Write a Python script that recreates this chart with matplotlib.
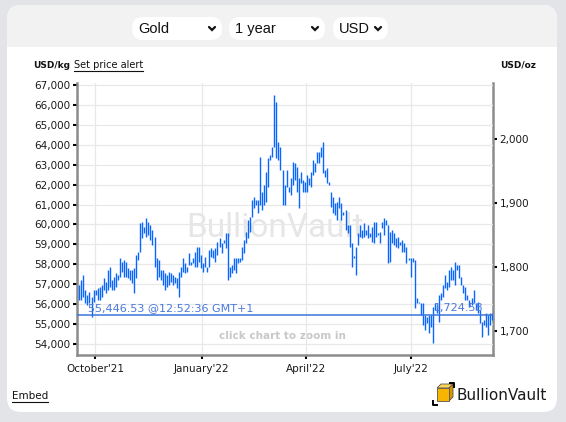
import pandas as pd
import matplotlib
matplotlib.use("Agg")
import matplotlib.pyplot as plt
from matplotlib.patches import FancyBboxPatch, Rectangle, Polygon
from matplotlib.ticker import FuncFormatter


OUTPUT_FILE = "out.png"

W, H = 566, 422

FIRST_BAR = "2021-09-17"
LAST_BAR = "2022-09-09"

# daily high / low, USD per kg
HIGHS = [
    56960, 57210, 57460, 56710, 56460, 56610, 56360, 56710, 56710, 56810,
    56860, 56960, 57310, 57110, 57710, 57870, 57210, 57360, 57560, 57460,
    58320, 58120, 58220, 58120, 57820, 57710, 57710, 57820, 58470, 58620,
    60070, 60120, 59870, 60330, 60120, 59970, 59720, 59370, 58320, 58220,
    57710, 57710, 57560, 57460, 57610, 57560, 57460, 57360, 57310, 57610,
    57870, 58320, 58070, 57870, 58570, 58120, 58320, 58620, 58870, 58870,
    58470, 58070, 58370, 57870, 58720, 58820, 58720, 58820, 59120, 59320,
    59070, 59220, 59570, 59570, 57870, 57970, 58320, 58320, 58320, 58320,
    58870, 59220, 59620, 60220, 60380, 61230, 61380, 61230, 61230, 63390,
    61630, 61980, 62630, 63340, 63490, 63890, 66500, 66150, 64140, 63890,
    62730, 61980, 62730, 61880, 62330, 63140, 63090, 62880, 62330, 62630,
    62230, 62130, 62480, 62330, 62630, 63240, 63090, 63640, 63640, 63890,
    64140, 62730, 62830, 62130, 61630, 61380, 61080, 61130, 61380, 61080,
    60630, 60730, 59970, 59970, 59070, 58420, 58870, 59570, 59970, 59720,
    60070, 59720, 59970, 59570, 59870, 60120, 60120, 59570, 59620, 60120,
    60330, 60220, 59970, 59620, 59720, 59570, 59320, 59370, 59120, 59220,
    59070, 58870, 58320, 58320, 58320, 58220, 56310, 56110, 56060, 56060,
    55460, 55360, 55460, 55460, 55860, 56060, 55960, 56460, 56560, 56960,
    57460, 57110, 57710, 57870, 57710, 58120, 57970, 57970, 57360, 56960,
    56860, 56460, 56210, 56310, 56710, 56060, 56110, 55710, 55110, 55210,
    55560, 55460, 55560, 55560,
]

LOWS = [
    56210, 56210, 56360, 56060, 55960, 56060, 55380, 56110, 56460, 56210,
    56210, 56360, 56710, 56560, 56710, 56860, 56710, 56710, 56860, 57210,
    57360, 57610, 57360, 57360, 57310, 57210, 57060, 56560, 57310, 58220,
    58620, 59320, 59570, 59370, 59470, 59220, 58970, 57870, 57210, 57360,
    57210, 56960, 56710, 56860, 56960, 57110, 56960, 57060, 56810, 56360,
    57360, 57610, 57560, 57610, 57970, 57970, 58070, 57870, 57870, 58120,
    57820, 57610, 57870, 57610, 57870, 58370, 58320, 58120, 58470, 58870,
    58570, 59070, 58820, 57210, 57360, 57560, 57710, 57560, 58070, 58120,
    58220, 58570, 59070, 59320, 59620, 60380, 60830, 60980, 60580, 60980,
    60730, 60980, 61130, 61880, 63240, 63390, 63890, 63340, 63240, 62730,
    60980, 60980, 61880, 61630, 61480, 61980, 62230, 61630, 60830, 62080,
    61630, 61630, 61630, 61980, 61880, 62480, 62630, 63090, 63090, 63390,
    62580, 62380, 62080, 61980, 60880, 60580, 60480, 60220, 60830, 60220,
    60480, 59720, 59570, 58870, 57870, 58320, 57460, 58970, 59370, 59320,
    59370, 59470, 59320, 59370, 59120, 59070, 59370, 59470, 59070, 59820,
    59470, 59970, 58070, 58120, 59070, 58970, 58870, 58820, 58970, 58620,
    58620, 58070, 58220, 57360, 58120, 55810, 56060, 56060, 55460, 54950,
    54700, 55060, 54550, 54850, 54050, 55710, 55560, 55110, 56210, 56360,
    56810, 56710, 56860, 57210, 57210, 56960, 57710, 57310, 56960, 56560,
    56210, 56210, 55860, 55960, 56060, 55710, 55560, 55060, 54350, 54950,
    54850, 54450, 54950, 55210,
]

TICK_DATES = ["2021-10-01", "2022-01-01", "2022-04-01", "2022-07-01"]
TICK_LABELS = ["October'21", "January'22", "April'22", "July'22"]

KG_TICKS = list(range(54000, 68000, 1000))
OZ_TICKS = [1700, 1800, 1900, 2000]
OZ_PER_KG = 32.1507466

LAST_PRICE = 55446.53
LAST_TIME = "12:52:36 GMT+1"

SELECTORS = ["Gold", "1 year", "USD"]

BAR_COLOR = "#0866ff"
LINE_COLOR = "#3b74dc"
SPINE_COLOR = "#8c8c8c"
GRID_COLOR = "#e8e8e8"


def comma(v, pos=None):
    return f"{v:,.0f}"


def draw_frame(fig):
    bg = fig.add_axes([0, 0, 1, 1])
    bg.set_xlim(0, W)
    bg.set_ylim(H, 0)
    bg.axis("off")

    # card + grey header band
    bg.add_patch(FancyBboxPatch((7, 5), 550, 407, boxstyle="round,pad=0,rounding_size=14",
                                fc="white", ec="none"))
    bg.add_patch(FancyBboxPatch((7, 5), 550, 60, boxstyle="round,pad=0,rounding_size=14",
                                fc="#f2f2f2", ec="none"))
    bg.add_patch(Rectangle((7, 47), 550, 340, fc="white", ec="none"))

    # selectors
    boxes = [(132, 90), (229, 96), (333, 55)]
    for label, (x0, w) in zip(SELECTORS, boxes):
        bg.add_patch(FancyBboxPatch((x0, 17), w, 23, boxstyle="round,pad=0,rounding_size=11",
                                    fc="white", ec="none"))
        bg.text(x0 + 6, 29, label, fontsize=10.5, family="Liberation Sans",
                color="#111111", va="center", ha="left")
        cx = x0 + w - 10
        bg.plot([cx - 3, cx, cx + 3], [27, 30, 27], color="#111111", lw=1.6,
                solid_capstyle="round", solid_joinstyle="miter")

    # units
    bg.text(33, 65, "USD/kg", fontsize=6.5, fontweight="bold", va="center", ha="left", color="#111111")
    alert = bg.text(74, 65, "Set price alert", fontsize=7, va="center", ha="left", color="#111111")
    bg.text(536, 65, "USD/oz", fontsize=6.5, fontweight="bold", va="center", ha="right", color="#111111")

    embed = bg.text(12, 396, "Embed", fontsize=7.5, va="center", ha="left", color="#111111")

    # logo
    bg.add_patch(Polygon([(437, 388), (441, 384), (453, 384), (449, 388)], closed=True,
                         fc="#fcd45a", ec="#555555", lw=0.6))
    bg.add_patch(Polygon([(449, 388), (453, 384), (453, 397), (449, 401)], closed=True,
                         fc="#d99400", ec="#555555", lw=0.6))
    bg.add_patch(Rectangle((437, 388), 12, 13, fc="#f7b500", ec="#555555", lw=0.6))
    bg.plot([450, 454, 454], [383, 383, 387], color="black", lw=1.4)
    bg.plot([433, 433, 437], [401, 405, 405], color="black", lw=1.4)
    bg.text(457, 395, "BullionVault", fontsize=11, va="center", ha="left", color="#1a1a1a")

    # underlines need real text extents
    fig.canvas.draw()
    inv = bg.transData.inverted()
    for t, y in [(alert, 70.5), (embed, 401.5)]:
        bb = t.get_window_extent()
        x0 = inv.transform((bb.x0, bb.y0))[0]
        x1 = inv.transform((bb.x1, bb.y0))[0]
        bg.plot([x0, x1], [y, y], color="#111111", lw=0.8)

    return bg


def plot_gold():
    fig = plt.figure(figsize=(W / 100, H / 100), dpi=100)
    fig.patch.set_facecolor("#e3e4e8")
    draw_frame(fig)

    dates = pd.date_range(FIRST_BAR, LAST_BAR, periods=len(HIGHS))

    ax = fig.add_axes([77 / W, 1 - 355 / H, (493 - 77) / W, (355 - 83) / H])
    ax.set_zorder(2)
    ax.set_facecolor("white")

    ax.text(0.476, 0.467, "BullionVault", transform=ax.transAxes, fontsize=24,
            family="Roboto", color="#e6e6e6", ha="center", va="center", zorder=0)
    ax.text(0.494, 0.07, "click chart to zoom in", transform=ax.transAxes, fontsize=7.5,
            fontweight="bold", color="#c8c8c8", ha="center", va="center", zorder=0)

    ax.vlines(dates, LOWS, HIGHS, color=BAR_COLOR, lw=1.0, zorder=3)

    ax.axhline(LAST_PRICE, color=LINE_COLOR, lw=1.1, zorder=4)
    ax.annotate(f"{LAST_PRICE:,.2f} @{LAST_TIME}", xy=(0.026, LAST_PRICE),
                xycoords=ax.get_yaxis_transform(), xytext=(0, 1.5), textcoords="offset points",
                fontsize=8, color="#4a78dc", ha="left", va="bottom", zorder=5)
    ax.annotate(f"{LAST_PRICE / OZ_PER_KG:,.2f}", xy=(0.977, LAST_PRICE),
                xycoords=ax.get_yaxis_transform(), xytext=(0, 1.5), textcoords="offset points",
                fontsize=8, color="#4a78dc", ha="right", va="bottom", zorder=5)

    ax.set_xlim(pd.Timestamp("2021-09-15"), pd.Timestamp("2022-09-10"))
    ax.set_ylim(53450, 67100)

    ax.set_yticks(KG_TICKS)
    ax.yaxis.set_major_formatter(FuncFormatter(comma))
    ax.set_xticks(pd.to_datetime(TICK_DATES))
    ax.set_xticklabels(TICK_LABELS)

    ax.grid(True, color=GRID_COLOR, lw=0.9)
    ax.set_axisbelow(True)

    for side in ["top", "right"]:
        ax.spines[side].set_visible(False)
    for side in ["left", "bottom"]:
        ax.spines[side].set_color(SPINE_COLOR)
        ax.spines[side].set_linewidth(1.8)

    ax.tick_params(axis="both", length=3.2, width=1.5, color="black", labelsize=7.5,
                   labelcolor="#1a1a1a", pad=1.5)
    ax.tick_params(axis="x", pad=3)

    sec = ax.secondary_yaxis("right", functions=(lambda v: v / OZ_PER_KG, lambda v: v * OZ_PER_KG))
    sec.set_yticks(OZ_TICKS)
    sec.yaxis.set_major_formatter(FuncFormatter(comma))
    sec.spines["right"].set_color(SPINE_COLOR)
    sec.spines["right"].set_linewidth(1.8)
    sec.tick_params(axis="y", length=3.2, width=1.5, color="black", labelsize=7.5,
                    labelcolor="#1a1a1a", pad=1.5)

    fig.savefig(OUTPUT_FILE, dpi=100, facecolor=fig.get_facecolor())


if __name__ == "__main__":
    plot_gold()
